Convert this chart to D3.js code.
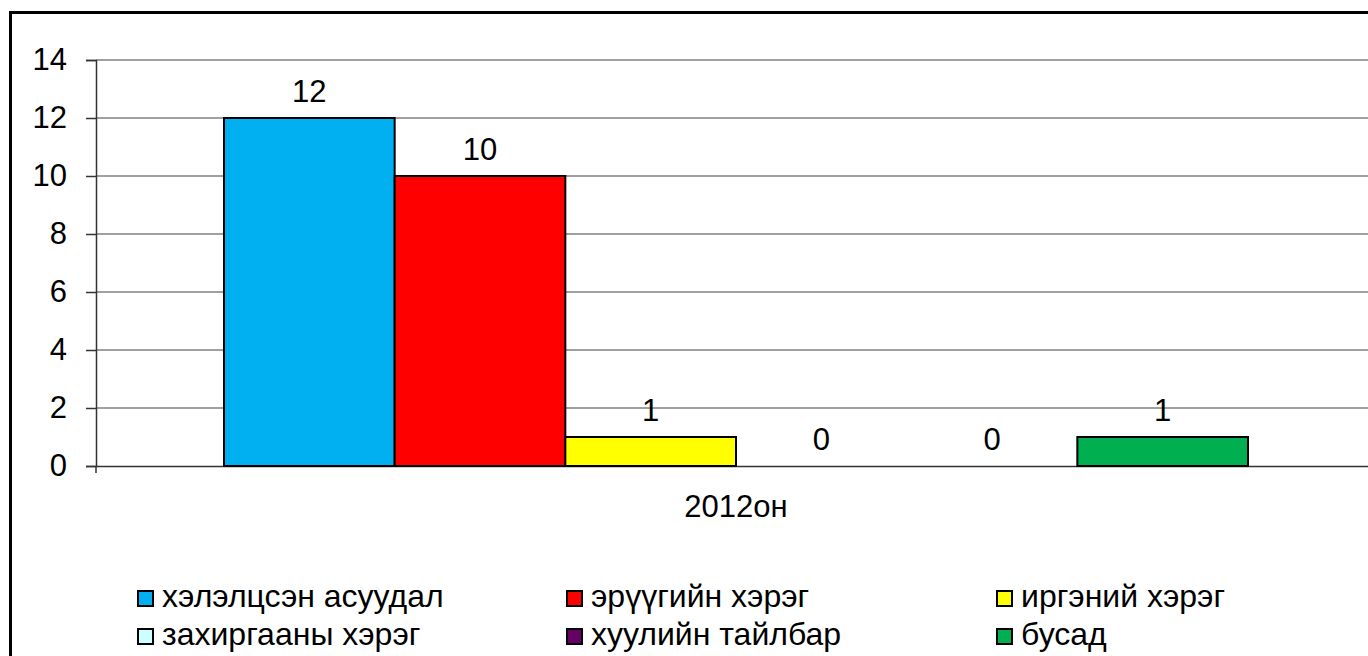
<!DOCTYPE html>
<html>
<head>
<meta charset="utf-8">
<script src="https://cdn.jsdelivr.net/npm/d3@7"></script>
<style>
  body { margin: 0; background: #fff; }
  svg { display: block; }
  text { font-family: "Liberation Sans", Arial, sans-serif; fill: #000; }
</style>
</head>
<body>
<div id="chart"></div>
<script>
// data
var categories = ["2012он"];
var seriesNames = ["хэлэлцсэн асуудал", "эрүүгийн хэрэг", "иргэний хэрэг", "захиргааны хэрэг", "хуулийн тайлбар", "бусад"];
var seriesColors = ["#00B0F0", "#FF0000", "#FFFF00", "#CCFFFF", "#660066", "#00B050"];
var seriesValues = [12, 10, 1, 0, 0, 1];
var yTicks = [0, 2, 4, 6, 8, 10, 12, 14];

var W = 1368, H = 656;
var margin = {top: 60, left: 96, right: -8, bottom: 190};
var width = W - margin.left - margin.right,
    height = H - margin.top - margin.bottom;

var svg = d3.select("#chart").append("svg")
    .attr("width", W)
    .attr("height", H);

// outer frame (runs off the right and bottom edges)
svg.append("rect")
    .attr("x", 10.5).attr("y", 12.5)
    .attr("width", W + 20).attr("height", H + 20)
    .attr("fill", "none")
    .attr("stroke", "#000")
    .attr("stroke-width", 3);

var g = svg.append("g")
    .attr("transform", "translate(" + margin.left + "," + margin.top + ")");

var y = d3.scaleLinear().domain([0, 14]).range([height, 0]);

var x0 = d3.scaleBand()
    .domain(categories)
    .range([0, width])
    .paddingInner(0)
    .paddingOuter(0.125);

var x1 = d3.scaleBand()
    .domain(seriesNames)
    .range([0, x0.bandwidth()])
    .padding(0);

// gridlines
g.append("g")
    .selectAll("line")
    .data(yTicks.filter(function(d) { return d > 0; }))
    .join("line")
    .attr("x1", 0).attr("x2", width)
    .attr("y1", function(d) { return y(d); })
    .attr("y2", function(d) { return y(d); })
    .attr("stroke", "#808080")
    .attr("stroke-width", 1.5);

// y axis
var yAxis = g.append("g")
    .call(d3.axisLeft(y).tickValues(yTicks).tickSize(10).tickPadding(19));
yAxis.select(".domain").attr("stroke", "#333").attr("stroke-width", 1.5);
yAxis.selectAll(".tick line").attr("stroke", "#333").attr("stroke-width", 1.5);
yAxis.selectAll(".tick text")
    .attr("dy", "0.30em")
    .style("font-size", "31px")
    .style("font-family", "Liberation Sans, Arial, sans-serif");

// x axis
var xAxis = g.append("g")
    .attr("transform", "translate(0," + height + ")")
    .call(d3.axisBottom(x0).tickSize(0).tickPadding(29));
xAxis.select(".domain").attr("stroke", "#333").attr("stroke-width", 1.5);
xAxis.selectAll(".tick text")
    .style("font-size", "31px")
    .style("font-family", "Liberation Sans, Arial, sans-serif");
// small tick at the left end of the category axis
g.append("line")
    .attr("x1", 0).attr("x2", 0)
    .attr("y1", height).attr("y2", height + 7)
    .attr("stroke", "#333").attr("stroke-width", 1.5);

// bars
var bars = g.append("g")
    .selectAll("g")
    .data(categories)
    .join("g")
    .attr("transform", function(d) { return "translate(" + x0(d) + ",0)"; });

bars.selectAll("rect")
    .data(seriesNames.map(function(s, i) { return {name: s, value: seriesValues[i], color: seriesColors[i]}; }))
    .join("rect")
    .attr("x", function(d) { return x1(d.name); })
    .attr("y", function(d) { return y(d.value); })
    .attr("width", x1.bandwidth())
    .attr("height", function(d) { return y(0) - y(d.value); })
    .attr("fill", function(d) { return d.color; })
    .attr("stroke", function(d) { return d.value > 0 ? "#000" : "none"; })
    .attr("stroke-width", 2);

// value labels
bars.selectAll("text.val")
    .data(seriesNames.map(function(s, i) { return {name: s, value: seriesValues[i]}; }))
    .join("text")
    .attr("class", "val")
    .attr("x", function(d) { return x1(d.name) + x1.bandwidth() / 2; })
    .attr("y", function(d) { return y(d.value) - 16; })
    .attr("text-anchor", "middle")
    .style("font-size", "31px")
    .text(function(d) { return d.value; });

// legend
var legend = svg.append("g");
var legendCols = [137, 566, 996];
var legendRows = [607, 645];
seriesNames.forEach(function(s, i) {
    var lx = legendCols[i % 3], ly = legendRows[Math.floor(i / 3)];
    var item = legend.append("g").attr("transform", "translate(" + lx + "," + ly + ")");
    item.append("rect")
        .attr("x", 1).attr("y", -16)
        .attr("width", 15).attr("height", 15)
        .attr("fill", seriesColors[i])
        .attr("stroke", "#000")
        .attr("stroke-width", 2);
    item.append("text")
        .attr("x", 25)
        .attr("y", 0)
        .style("font-size", "32px")
        .text(s);
});
</script>
</body>
</html>
